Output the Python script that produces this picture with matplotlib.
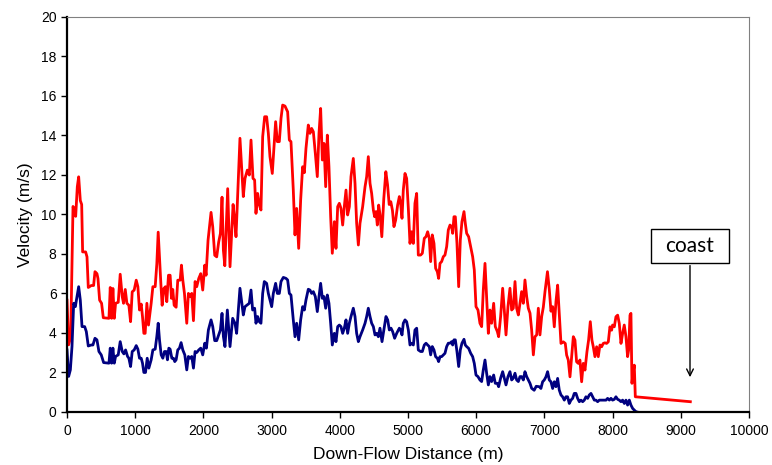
import matplotlib
matplotlib.use("Agg")
import matplotlib.pyplot as plt
from matplotlib.patches import Rectangle

# ---- data ----
red_x = [0, 24, 54, 88, 112, 127, 151, 171, 195, 215, 229, 273, 293, 312, 356, 390, 410, 439, 454, 478,
         507, 532, 615, 634, 654, 673, 693, 712, 751, 780, 810, 829, 854, 878, 907, 932, 956, 985, 1015, 1039,
         1063, 1088, 1107, 1127, 1146, 1171, 1195, 1234, 1259, 1293, 1317, 1337, 1356, 1376, 1395, 1420, 1444,
         1463, 1488, 1512, 1532, 1551, 1571, 1600, 1624, 1659, 1678, 1698, 1722, 1756, 1780, 1805, 1829, 1854,
         1878, 1902, 1932, 1961, 1990, 2020, 2039, 2068, 2112, 2137, 2166, 2195, 2224, 2249, 2273, 2293, 2314,
         2356, 2390, 2435, 2454, 2478, 2536, 2585, 2610, 2644, 2673, 2698, 2727, 2751, 2771, 2795, 2820, 2844,
         2869, 2898, 2927, 2952, 2976, 3010, 3035, 3059, 3084, 3113, 3138, 3162, 3196, 3235, 3260, 3284, 3318,
         3343, 3367, 3397, 3426, 3455, 3480, 3504, 3538, 3563, 3587, 3612, 3641, 3670, 3695, 3719, 3744, 3768,
         3793, 3817, 3841, 3866, 3890, 3920, 3944, 3969, 3993, 4017, 4042, 4066, 4091, 4115, 4140, 4164, 4198,
         4223, 4247, 4272, 4296, 4335, 4370, 4394, 4418, 4443, 4467, 4492, 4511, 4531, 4550, 4570, 4589, 4616,
         4645, 4675, 4700, 4724, 4748, 4772, 4794, 4819, 4848, 4873, 4892, 4912, 4931, 4956, 4980, 5005, 5029,
         5053, 5078, 5102, 5127, 5151, 5185, 5210, 5239, 5264, 5288, 5312, 5332, 5356, 5381, 5405, 5430, 5449,
         5469, 5493, 5518, 5542, 5567, 5591, 5616, 5640, 5655, 5674, 5694, 5718, 5743, 5767, 5791, 5821, 5840,
         5860, 5889, 5919, 5948, 5972, 5997, 6026, 6055, 6080, 6104, 6129, 6153, 6178, 6202, 6226, 6256, 6280,
         6310, 6329, 6358, 6388, 6412, 6437, 6466, 6495, 6520, 6544, 6569, 6593, 6618, 6642, 6666, 6691, 6715,
         6740, 6764, 6789, 6813, 6838, 6862, 6887, 6911, 6935, 6960, 6984, 7009, 7045, 7072, 7096, 7121, 7145,
         7170, 7194, 7218, 7243, 7277, 7306, 7326, 7350, 7375, 7399, 7424, 7448, 7472, 7497, 7521, 7546, 7570,
         7595, 7624, 7648, 7673, 7697, 7717, 7741, 7766, 7790, 7815, 7839, 7863, 7888, 7912, 7937, 7961, 7986,
         8000, 8025, 8049, 8074, 8098, 8123, 8147, 8171, 8196, 8220, 8235, 8255, 8269, 8284, 8298, 8318, 8333,
         9140]
red_y = [5.66, 3.4, 3.8, 10.4, 10.2, 9.9, 11.4, 11.9, 10.7, 10.5, 8.1, 8.1, 7.85, 6.3, 6.4, 6.4, 7.1, 7.0, 6.75, 5.66,
         5.5, 4.77, 4.74, 6.3, 4.74, 6.25, 4.74, 5.5, 5.55, 6.97, 5.83, 5.5, 6.2, 5.5, 5.4, 4.57, 6.08, 6.17, 6.67, 6.34,
         5.16, 5.46, 4.82, 3.98, 3.98, 5.5, 4.4, 5.5, 6.34, 6.34, 7.5, 9.1, 7.85, 6.5, 5.4, 6.25, 6.34,
         5.58, 6.92, 6.92, 5.75, 6.2, 5.4, 5.3, 6.67, 6.67, 7.43, 6.67, 6.0, 4.49, 6.0, 5.83, 6.0, 4.62,
         6.6, 6.34, 6.76, 7.0, 6.17, 7.43, 6.92, 8.69, 10.1, 9.36, 7.93, 7.85, 8.6, 9.03, 10.87, 8.18, 7.4,
         11.3, 7.35, 10.5, 9.87, 8.87, 13.85, 10.9, 11.82, 12.24, 11.99, 13.76, 11.82, 11.74, 10.05, 11.06, 10.47, 10.22,
         13.93, 14.94, 14.94, 14.1, 12.92, 12.07, 13.42, 14.69, 13.68, 13.68, 14.86, 15.53, 15.48, 15.19, 13.76, 13.68, 11.23,
         8.96, 10.3, 8.28, 10.73, 12.41, 12.11, 13.34, 14.52, 14.1, 14.35, 14.18, 13.09, 11.91, 14.1, 15.36, 12.75, 13.59,
         11.4, 14.01, 12.41, 9.88, 8.03, 9.63, 8.28, 10.39, 10.56, 10.3, 9.46, 10.39, 11.23, 9.97, 10.39, 11.91, 12.83,
         11.57, 9.55, 8.45, 9.55, 10.39, 11.4, 11.91, 12.92, 11.57, 11.06, 10.22, 9.88, 10.14, 9.46, 10.47, 10.0, 8.87,
         10.8, 12.16, 11.5, 10.5, 10.64, 10.2, 9.38, 9.71, 10.47, 10.9, 10.56, 9.8, 11.23, 12.07, 11.82, 10.3, 8.53,
         9.12, 8.53, 10.56, 11.06, 7.94, 7.94, 8.03, 8.79, 8.87, 9.12, 8.79, 7.61, 8.96, 8.53, 7.27, 7.1, 6.76,
         7.52, 7.61, 7.86, 7.94, 8.37, 9.21, 9.46, 9.38, 9.04, 9.88, 9.88, 8.53, 6.34, 8.7, 9.63, 10.14, 9.55,
         9.04, 8.87, 8.37, 7.86, 7.19, 5.33, 5.16, 4.49, 4.32, 6.17, 7.52, 5.84, 3.98, 5.16, 4.49, 5.5, 4.32,
         4.07, 3.81, 4.83, 6.26, 5.16, 3.9, 5.33, 6.26, 5.16, 5.25, 6.6, 5.25, 4.91, 5.5, 6.09, 5.5, 6.68,
         5.84, 5.25, 5.0, 4.15, 2.89, 3.81, 3.9, 5.25, 3.9, 4.83, 5.3, 6.1, 7.1, 6.2, 5.1, 5.33, 4.31,
         5.6, 6.42, 5.0, 3.47, 3.55, 3.47, 2.88, 2.63, 1.78, 2.8, 3.81, 3.64, 2.54, 2.46, 2.63, 1.53, 2.46,
         2.12, 3.05, 3.64, 4.57, 3.64, 3.3, 2.8, 3.3, 2.8, 3.39, 3.3, 3.47, 3.5, 3.47, 3.55, 4.31, 4.14,
         4.4, 4.31, 4.82, 4.9, 4.48, 3.47, 3.98, 4.4, 3.81, 2.8, 3.13, 4.9, 4.99, 1.45, 1.95, 2.37, 0.77,
         0.52]

blue_x = [0, 24, 49, 73, 98, 122, 146, 171, 195, 220, 259, 283, 312, 356, 380, 410, 439, 468, 502, 537,
          615, 634, 654, 673, 693, 712, 751, 780, 810, 834, 859, 888, 907, 932, 956, 985, 1015, 1039, 1063, 1088,
          1107, 1127, 1151, 1176, 1200, 1234, 1259, 1293, 1317, 1337, 1356, 1381, 1405, 1429, 1454, 1473, 1493,
          1512, 1537, 1561, 1580, 1600, 1624, 1649, 1673, 1698, 1727, 1756, 1780, 1805, 1829, 1854, 1878, 1902,
          1932, 1961, 1990, 2020, 2044, 2073, 2112, 2137, 2166, 2195, 2224, 2249, 2273, 2293, 2316, 2351, 2390,
          2429, 2463, 2487, 2536, 2585, 2610, 2644, 2673, 2698, 2722, 2751, 2771, 2795, 2820, 2844, 2869, 2893,
          2927, 2952, 2976, 3001, 3025, 3059, 3084, 3113, 3138, 3172, 3211, 3235, 3260, 3284, 3318, 3343, 3367,
          3397, 3426, 3455, 3480, 3504, 3538, 3563, 3587, 3612, 3641, 3670, 3695, 3719, 3744, 3768, 3793, 3817,
          3841, 3866, 3890, 3920, 3944, 3969, 3993, 4017, 4042, 4066, 4091, 4115, 4140, 4164, 4198, 4223, 4247,
          4272, 4296, 4335, 4370, 4394, 4418, 4443, 4467, 4492, 4516, 4540, 4565, 4589, 4619, 4653, 4677, 4702,
          4726, 4751, 4775, 4804, 4834, 4873, 4892, 4912, 4931, 4956, 4980, 5005, 5029, 5053, 5078, 5102, 5127,
          5151, 5185, 5210, 5239, 5264, 5288, 5312, 5332, 5356, 5381, 5405, 5430, 5449, 5469, 5493, 5518, 5542,
          5567, 5591, 5616, 5640, 5655, 5674, 5694, 5718, 5743, 5767, 5791, 5821, 5840, 5860, 5889, 5919, 5948,
          5972, 5997, 6026, 6055, 6080, 6104, 6129, 6153, 6178, 6202, 6226, 6256, 6280, 6310, 6329, 6358, 6388,
          6412, 6437, 6466, 6495, 6520, 6544, 6569, 6593, 6618, 6642, 6666, 6691, 6715, 6740, 6764, 6789, 6813,
          6850, 6880, 6925, 6949, 6974, 6998, 7023, 7047, 7072, 7096, 7121, 7145, 7169, 7194, 7218, 7243, 7267,
          7292, 7316, 7340, 7365, 7389, 7414, 7438, 7463, 7487, 7512, 7536, 7561, 7585, 7609, 7634, 7658, 7683,
          7707, 7732, 7756, 7781, 7805, 7830, 7854, 7878, 7903, 7927, 7952, 7976, 8000, 8025, 8049, 8074, 8098,
          8123, 8147, 8172, 8196, 8220, 8245, 8269, 8294, 8318, 8343, 8357]
blue_y = [3.14, 1.8, 2.13, 3.31, 5.5, 5.33, 5.83, 6.34, 5.66, 4.32, 4.32, 4.07, 3.34, 3.39, 3.39, 3.73, 3.65, 3.06, 2.89, 2.5,
          2.47, 3.23, 2.47, 3.23, 2.47, 2.81, 2.89, 3.56, 3.06, 2.94, 3.14, 2.81, 2.72, 2.3, 3.06, 3.14, 3.36, 3.18, 2.72, 2.72,
          2.47, 2.0, 2.0, 2.72, 2.22, 2.64, 3.14, 3.18, 3.82, 4.49, 3.65, 2.89, 2.72, 3.06, 3.06, 2.64, 3.23,
          3.18, 2.72, 2.72, 2.55, 2.64, 3.14, 3.23, 3.51, 3.14, 2.89, 2.13, 2.81, 2.72, 2.81, 2.22, 3.06, 3.01,
          3.14, 3.23, 2.89, 3.48, 3.23, 4.15, 4.66, 4.32, 3.61, 3.61, 3.9, 4.15, 4.99, 3.82, 3.31, 5.16, 3.31,
          4.74, 4.49, 3.98, 6.26, 4.91, 5.33, 5.42, 5.5, 6.17, 5.16, 5.25, 4.49, 4.83, 4.57, 4.49, 6.0, 6.6,
          6.51, 6.0, 5.67, 5.33, 6.0, 6.51, 6.0, 6.0, 6.6, 6.81, 6.76, 6.68, 6.0, 5.92, 4.66, 3.81, 4.49,
          3.65, 4.66, 5.33, 5.16, 5.67, 6.21, 6.17, 6.0, 6.09, 5.84, 5.08, 5.84, 6.51, 5.75, 5.84, 5.25, 5.92,
          5.5, 4.49, 3.39, 3.98, 3.56, 4.32, 4.4, 4.32, 3.98, 4.24, 4.66, 3.98, 4.49, 4.83, 5.25, 4.83, 3.98,
          3.56, 3.81, 4.15, 4.49, 4.83, 5.25, 4.83, 4.49, 4.32, 3.9, 3.98, 3.81, 4.24, 3.56, 4.32, 4.83, 4.66,
          4.15, 4.24, 4.07, 3.73, 3.98, 4.24, 4.15, 3.9, 4.49, 4.66, 4.57, 4.15, 3.39, 3.48, 3.39, 4.15, 4.24,
          3.14, 3.06, 3.06, 3.39, 3.48, 3.39, 3.31, 2.89, 3.31, 3.14, 2.8, 2.72, 2.55, 2.8, 2.8, 2.89, 2.97,
          3.31, 3.48, 3.48, 3.56, 3.39, 3.65, 3.65, 3.06, 2.3, 3.14, 3.48, 3.68, 3.39, 3.31, 3.22, 2.97, 2.8,
          2.46, 1.87, 1.79, 1.62, 1.54, 2.13, 2.63, 1.96, 1.37, 1.79, 1.54, 1.87, 1.45, 1.45, 1.28, 1.71, 2.04,
          1.71, 1.37, 1.79, 2.04, 1.62, 1.71, 1.96, 1.62, 1.54, 1.79, 1.79, 1.62, 2.04, 1.79, 1.62, 1.45, 1.2,
          1.1, 1.3, 1.28, 1.19, 1.53, 1.62, 1.78, 2.04, 1.62, 1.53, 1.19, 1.53, 1.28, 1.7, 1.11, 0.86, 0.77,
          0.6, 0.77, 0.77, 0.43, 0.6, 0.69, 0.94, 0.94, 0.69, 0.52, 0.6, 0.52, 0.6, 0.77, 0.69, 0.86, 0.94,
          0.77, 0.6, 0.6, 0.52, 0.6, 0.6, 0.6, 0.6, 0.6, 0.69, 0.6, 0.69, 0.6, 0.64, 0.77, 0.64, 0.6,
          0.52, 0.6, 0.43, 0.6, 0.35, 0.6, 0.35, 0.18, 0.1, 0.01, 0.0]

x_ticks = [0, 1000, 2000, 3000, 4000, 5000, 6000, 7000, 8000, 9000, 10000]
y_ticks = [0, 2, 4, 6, 8, 10, 12, 14, 16, 18, 20]
annot_label = "coast"
annot_x = 9135
annot_tip_y = 1.62

plt.rcParams['font.family'] = ['Liberation Sans', 'DejaVu Sans']

fig = plt.figure(figsize=(7.72, 4.65), dpi=100)
ax = fig.add_axes([0.0868, 0.114, 0.8834, 0.850])

ax.plot(red_x, red_y, color='#FF0000', lw=2.0, solid_joinstyle='round')
ax.plot(blue_x, blue_y, color='#000080', lw=2.0, solid_joinstyle='round')

ax.set_xlim(0, 10000)
ax.set_ylim(0, 20)
ax.set_xticks(x_ticks)
ax.set_yticks(y_ticks)
ax.tick_params(axis='both', labelsize=10, direction='out', length=4, width=1, colors='black')
ax.tick_params(axis='x', pad=5)

for s in ['left', 'bottom']:
    ax.spines[s].set_color('black')
    ax.spines[s].set_linewidth(1.6)
for s in ['top', 'right']:
    ax.spines[s].set_color('#808080')
    ax.spines[s].set_linewidth(0.8)

ax.set_xlabel('Down-Flow Distance (m)', fontsize=12.5, labelpad=6)
ax.set_ylabel('Velocity (m/s)', fontsize=12.5, labelpad=6)

# coast annotation box + arrow
box_x0, box_x1 = 8563, 9707
box_y0, box_y1 = 7.55, 9.27
ax.add_patch(Rectangle((box_x0, box_y0), box_x1 - box_x0, box_y1 - box_y0,
                       facecolor='white', edgecolor='black', lw=1.0, zorder=5, clip_on=False))
ax.text(annot_x, (box_y0 + box_y1) / 2, annot_label, ha='center', va='center',
        fontsize=15, family=['Lato', 'DejaVu Sans'], zorder=6)
ax.annotate('', xy=(annot_x, annot_tip_y), xytext=(annot_x, box_y0),
            arrowprops=dict(arrowstyle='->', color='black', lw=1.0, mutation_scale=12), zorder=5)

fig.savefig('out.png', dpi=100)
